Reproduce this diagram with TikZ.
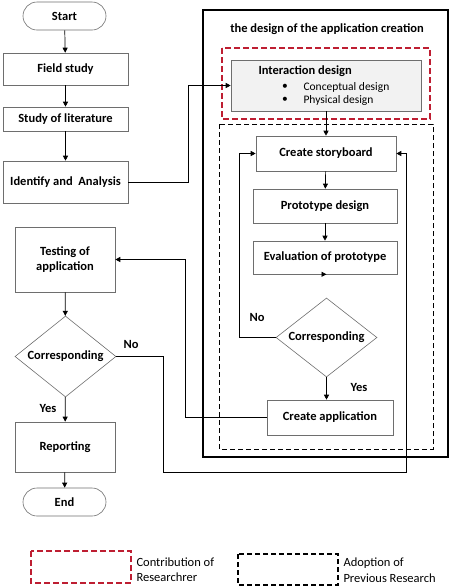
\documentclass[tikz,border=0pt]{standalone}
\usepackage{fontspec}
\setmainfont{Carlito}
\usetikzlibrary{shapes.geometric,arrows.meta}
\definecolor{redline}{RGB}{190,30,50}
\definecolor{boxline}{RGB}{110,110,110}
\definecolor{boxfill}{RGB}{242,242,242}

\begin{document}
\begin{tikzpicture}[x=1pt,y=-1pt,
    >={Triangle[length=5pt,width=5pt]},
    bold/.style={font=\fontsize{12.5}{15}\selectfont\bfseries},
    plain/.style={font=\fontsize{11.5}{14}\selectfont},
    legend/.style={font=\fontsize{12.5}{15}\selectfont,anchor=west},
    box/.style={draw=boxline,line width=0.6pt,inner sep=1pt,bold,align=center},
    term/.style={box,rounded corners=14pt,minimum width=83pt,minimum height=28pt},
    choice/.style={draw=boxline,line width=0.6pt,diamond,aspect=1.25,inner sep=0pt,bold},
    flow/.style={->,line width=0.7pt},
    redframe/.style={draw=redline,line width=1.2pt,dash pattern=on 6pt off 3pt}]
\useasboundingbox (0,0) rectangle (453,587);

% left column
\node [term] (start) at (64.5,16) {Start};
\node [box,minimum width=125pt,minimum height=32pt] (field) at (65.5,69) {Field study};
\node [box,minimum width=125pt,minimum height=24pt] (lit) at (65.5,119) {Study of literature};
\node [box,minimum width=125pt,minimum height=42pt] (ident) at (65.5,182) {Identify and\ \ Analysis};
\node [box,minimum width=100pt,minimum height=65pt] (test) at (65,259.5) {Testing of\\application};
\node [choice,minimum width=101pt,minimum height=81pt] (corr1) at (65.5,356.5) {Corresponding};
\node [box,minimum width=100pt,minimum height=50pt] (report) at (65,447) {Reporting};
\node [term] (end) at (64.5,502) {End};

\draw [flow] (start) -- (field);
\draw [flow] (field) -- (lit);
\draw [flow] (lit) -- (ident);
\draw [flow] (test) -- (corr1);
\draw [flow] (corr1) -- (report);
\draw [flow] (report) -- (end);
\node [bold] (yes1) at (48,408) {Yes};
\node [bold] (no1) at (131,344) {No};

% the design of the application creation
\draw [line width=1.2pt] (203,10) rectangle (448,457);
\node [bold] (title) at (327,29) {the design of the application creation};
\draw [redframe] (222,48) rectangle (430,119);
\draw [line width=0.9pt,dash pattern=on 5pt off 3pt] (219,124) rectangle (433,449);

\node [draw=boxline,fill=boxfill,line width=0.6pt,minimum width=190pt,minimum height=51pt] (inter) at (326,85.5) {};
\node [bold,anchor=west] (intertext) at (255,71) {Interaction design};
\node [plain] (dot1) at (285,87) {\textbullet};
\node [plain,anchor=west] (concept) at (300,87) {Conceptual design};
\node [plain] (dot2) at (285,100) {\textbullet};
\node [plain,anchor=west] (physical) at (300,100) {Physical design};

\node [box,minimum width=140pt,minimum height=35pt] (story) at (326,153.5) {Create storyboard};
\node [box,minimum width=144pt,minimum height=34pt] (proto) at (325,206) {Prototype design};
\node [box,minimum width=144pt,minimum height=33pt] (eval) at (325,257.5) {Evaluation of prototype};
\node [choice,minimum width=101pt,minimum height=79pt] (corr2) at (326.5,337.5) {Corresponding};
\node [box,minimum width=126pt,minimum height=35pt] (app) at (330,417.5) {Create application};
\node [bold] (no2) at (257,317) {No};
\node [bold] (yes2) at (359,387) {Yes};

\draw [flow] (inter.south) -- (inter.south |- story.north);
\draw [flow] (story) -- (proto);
\draw [flow] (proto) -- (eval);
\draw [flow] (eval.south) -- (eval.south -| corr2.north);
\draw [flow] (corr2.south) -- (corr2.south |- app.north);
\draw [flow] (corr2.west) -- (239,337.5) -- (239,153.5) -- (story.west);

% links between the columns
\draw [flow] (ident.east) -- (188,182) -- (188,85.5) -- (inter.west);
\draw [flow] (app.west) -- (185,417.5) -- (185,259.5) -- (test.east);
\draw [flow] (corr1.east) -- (163,356.5) -- (163,472) -- (406,472) -- (406,153.5) -- (story.east);

% legend
\draw [redframe] (31,551) rectangle (131,583);
\node [legend] (contrib) at (133,562) {Contribution of};
\node [legend] (contrib2) at (133,577) {Researchrer};
\draw [line width=1.4pt,dash pattern=on 5pt off 3pt] (238,554) rectangle (338,585);
\node [legend] (adopt) at (340,563) {Adoption of};
\node [legend] (adopt2) at (340,578) {Previous Research};
\end{tikzpicture}
\end{document}
